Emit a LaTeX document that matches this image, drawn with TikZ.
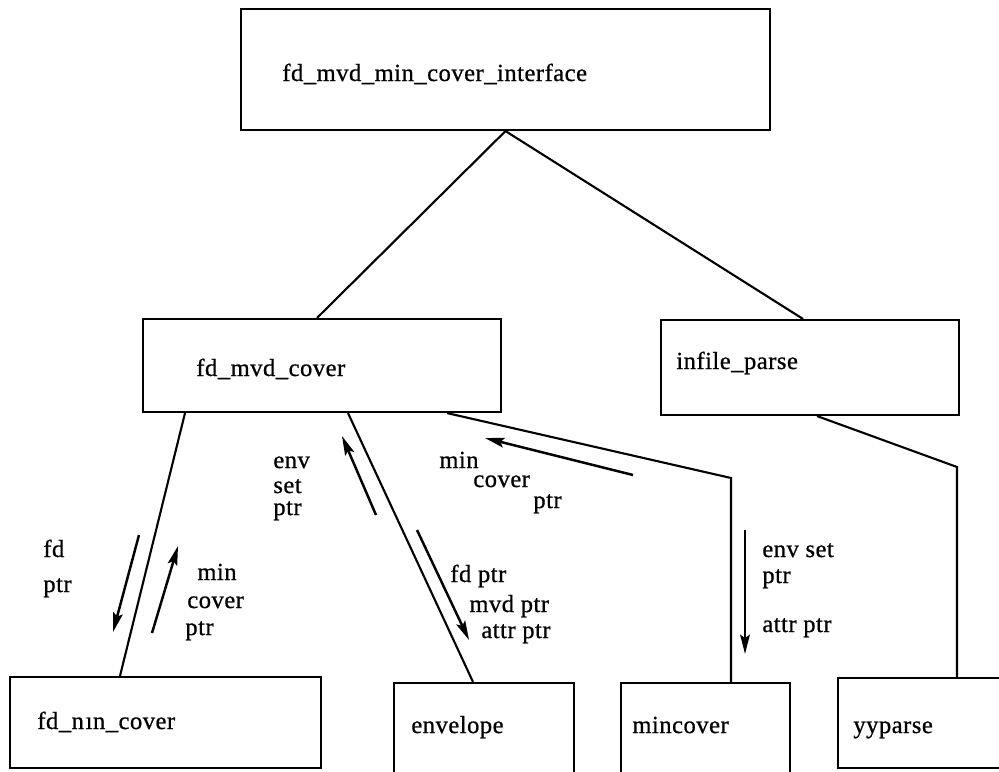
\documentclass[tikz,border=0pt]{standalone}
\usepackage{fontspec}
\setmainfont{Liberation Serif}[LetterSpace=2,FakeBold=0.7]
\usetikzlibrary{arrows.meta}
\begin{document}
\begin{tikzpicture}[x=0.02cm,y=-0.02cm,
  box/.style={draw, line width=1.2pt, inner sep=0pt},
  link/.style={line width=1.2pt},
  flow/.style={line width=1.4pt, -{Stealth[length=11pt,width=5.5pt,inset=2pt]}},
  lbl/.style={anchor=base west, inner sep=0pt, font=\fontsize{14}{16}\selectfont}]
\useasboundingbox (0,0) rectangle (999,771);
% boxes
\node[box, minimum width=529*0.02cm, minimum height=121*0.02cm] (top) at (505.5,69.5) {};
\node[box, minimum width=358*0.02cm, minimum height=93*0.02cm] (mvd) at (322,365.5) {};
\node[box, minimum width=298*0.02cm, minimum height=95*0.02cm] (inf) at (810,367.5) {};
\node[box, minimum width=311*0.02cm, minimum height=91*0.02cm] (fdmin) at (165.5,722.5) {};
\node[box, minimum width=180*0.02cm, minimum height=120*0.02cm] (env) at (484,743) {};
\node[box, minimum width=169*0.02cm, minimum height=120*0.02cm] (minc) at (705.5,743) {};
\node[box, minimum width=172*0.02cm, minimum height=90*0.02cm] (yy) at (924,723) {};
% box names
\node[lbl] (tTop) at (282,81) {fd\_mvd\_min\_cover\_interface};
\node[lbl] (tMvd) at (196,376) {fd\_mvd\_cover};
\node[lbl] (tInf) at (676,369) {infile\_parse};
\node[lbl] (tFdmin) at (37,729) {fd\_n\kern1pt ın\_cover};
\node[lbl] (tEnv) at (411,733) {envelope};
\node[lbl] (tMinc) at (632,733) {mincover};
\node[lbl] (tYy) at (853,733) {yyparse};
% calling structure
\draw[link] (top.south) -- (317,0 |- mvd.north);
\draw[link] (top.south) -- (803,0 |- inf.north);
\draw[link] (185,0 |- mvd.south) -- (120,0 |- fdmin.north);
\draw[link] (348,0 |- mvd.south) -- (473,0 |- env.north);
\coordinate (bendM) at (731,478);
\coordinate (bendY) at (957,467);
\draw[link] (447,0 |- mvd.south) -- (bendM) -- (bendM |- minc.north);
\draw[link] (817,0 |- inf.south) -- (bendY) -- (bendY |- yy.north);
% data passed between modules
\coordinate (a1s) at (139,535); \coordinate (a1e) at (113,632);
\coordinate (a2s) at (152,633); \coordinate (a2e) at (178,546);
\coordinate (a3s) at (376,515); \coordinate (a3e) at (342,436);
\coordinate (a4s) at (417,530); \coordinate (a4e) at (469,640);
\coordinate (a5s) at (633,475); \coordinate (a5e) at (485,438);
\coordinate (a6s) at (745,530); \coordinate (a6e) at (745,654);
\draw[flow] (a1s) -- (a1e);
\draw[flow] (a2s) -- (a2e);
\draw[flow] (a3s) -- (a3e);
\draw[flow] (a4s) -- (a4e);
\draw[flow] (a5s) -- (a5e);
\draw[flow] (a6s) -- (a6e);
% arrow labels
\node[lbl] (l1a) at (43,557) {fd};
\node[lbl] (l1b) at (43,592) {ptr};
\node[lbl] (l2a) at (197,580) {min};
\node[lbl] (l2b) at (187,608) {cover};
\node[lbl] (l2c) at (185,635) {ptr};
\node[lbl] (l3a) at (273,468) {env};
\node[lbl] (l3b) at (273,493) {set};
\node[lbl] (l3c) at (273,515) {ptr};
\node[lbl] (l4a) at (450,582) {fd ptr};
\node[lbl] (l4b) at (469,612) {mvd ptr};
\node[lbl] (l4c) at (481,638) {attr ptr};
\node[lbl] (l5a) at (439,468) {min};
\node[lbl] (l5b) at (473,487) {cover};
\node[lbl] (l5c) at (533,508) {ptr};
\node[lbl] (l6a) at (762,557) {env set};
\node[lbl] (l6b) at (762,583) {ptr};
\node[lbl] (l6c) at (762,632) {attr ptr};
\end{tikzpicture}
\end{document}
